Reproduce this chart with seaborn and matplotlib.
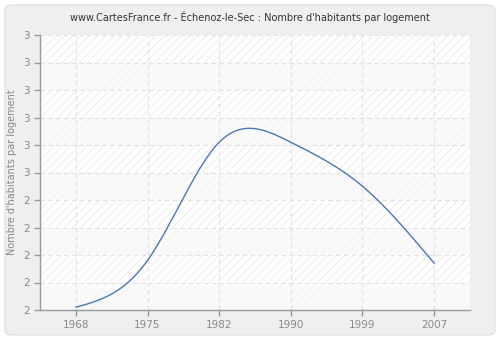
import numpy as np
import pandas as pd
import matplotlib
matplotlib.use("Agg")
import matplotlib.pyplot as plt
from matplotlib.patches import FancyBboxPatch
import seaborn as sns

years = ["1968", "1975", "1982", "1990", "1999", "2007"]
values = [2.01, 2.18, 2.61, 2.61, 2.45, 2.17]
ytick_values = [2.0, 2.1, 2.2, 2.3, 2.4, 2.5, 2.6, 2.7, 2.8, 2.9, 3.0]
ytick_labels = ["2", "2", "2", "2", "2", "3", "3", "3", "3", "3", "3"]
title = "www.CartesFrance.fr - Échenoz-le-Sec : Nombre d'habitants par logement"
ylabel = "Nombre d'habitants par logement"


def natural_spline(y, n=400):
    y = np.asarray(y, float)
    k = len(y)
    A = np.zeros((k, k))
    b = np.zeros(k)
    A[0, 0] = 1
    A[-1, -1] = 1
    for i in range(1, k - 1):
        A[i, i - 1] = 1
        A[i, i] = 4
        A[i, i + 1] = 1
        b[i] = 6 * (y[i + 1] - 2 * y[i] + y[i - 1])
    M = np.linalg.solve(A, b)
    xs = np.linspace(0, k - 1, n)
    out = np.empty_like(xs)
    for j, x in enumerate(xs):
        i = min(int(np.floor(x)), k - 2)
        t = x - i
        out[j] = (M[i] * (1 - t) ** 3 / 6 + M[i + 1] * t ** 3 / 6
                  + (y[i] - M[i] / 6) * (1 - t) + (y[i + 1] - M[i + 1] / 6) * t)
    return xs, out


sns.set_theme(style="white")
plt.rcParams["font.family"] = ["DejaVu Sans"]
plt.rcParams["hatch.linewidth"] = 0.6
plt.rcParams["hatch.color"] = "#ebebeb"
plt.rcParams["xtick.major.size"] = 4
plt.rcParams["ytick.major.size"] = 4
plt.rcParams["xtick.bottom"] = True
plt.rcParams["ytick.left"] = True

fig = plt.figure(figsize=(5, 3.4), dpi=100)
fig.patch.set_facecolor("white")
panel = FancyBboxPatch((5 / 500, 5 / 340), 490 / 500, 330 / 340,
                       boxstyle="round,pad=0,rounding_size=0.015",
                       transform=fig.transFigure, facecolor="#efefef",
                       edgecolor="#e2e2e2", linewidth=1, zorder=-5)
fig.patches.append(panel)

ax = fig.add_axes([40 / 500, 30 / 340, 430 / 500, 275 / 340])
ax.set_zorder(2)
ax.set_facecolor("white")
ax.set_xlim(-0.5, len(years) - 0.5)
ax.set_ylim(ytick_values[0], ytick_values[-1])

# hatched background with alternating tinted bands
ax.axhspan(ytick_values[0], ytick_values[-1], facecolor="white",
           edgecolor="#ebebeb", hatch="////", linewidth=0, zorder=0)
for i in range(0, len(ytick_values) - 1, 2):
    ax.axhspan(ytick_values[i], ytick_values[i + 1], facecolor="#f8f8f8",
               alpha=0.7, linewidth=0, zorder=0.5)

xs, ys = natural_spline(values)
df = pd.DataFrame({"x": xs, "y": ys})
sns.lineplot(data=df, x="x", y="y", ax=ax, color="#4a78b2", linewidth=1.0,
             zorder=3)

ax.set_xticks(range(len(years)))
ax.set_xticklabels(years)
ax.set_yticks(ytick_values)
ax.set_yticklabels(ytick_labels)
ax.grid(True, color="#e2e2e2", linestyle=(0, (4, 3)), linewidth=0.8, zorder=1)
ax.set_axisbelow(False)
for gl in ax.get_xgridlines() + ax.get_ygridlines():
    gl.set_zorder(1)

for s in ["top", "right"]:
    ax.spines[s].set_visible(False)
for s in ["left", "bottom"]:
    ax.spines[s].set_color("#999999")
    ax.spines[s].set_linewidth(1)
    ax.spines[s].set_zorder(4)

ax.tick_params(axis="both", which="major", length=4, width=1, color="#999999",
               labelcolor="#888888", labelsize=7.5, pad=3,
               bottom=True, left=True, direction="out")
ax.set_xlabel("")
ax.set_ylabel(ylabel, color="#888888", fontsize=7, labelpad=5)
fig.text(0.5, 1 - 17 / 340, title, ha="center", va="center",
         fontsize=7, color="#333333")

fig.savefig("out.png", dpi=100, facecolor=fig.get_facecolor())
